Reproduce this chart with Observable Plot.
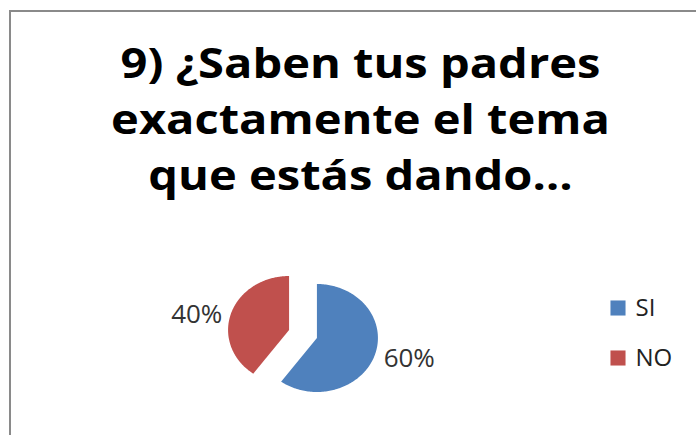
<!DOCTYPE html>
<html>
<head>
<meta charset="utf-8">
<script src="https://cdn.jsdelivr.net/npm/d3@7"></script>
<script src="https://cdn.jsdelivr.net/npm/@observablehq/plot@0.6"></script>
<style>
  html, body { margin: 0; padding: 0; background: #fff; }
  #wrap { position: relative; width: 696px; height: 435px; overflow: hidden; }
  #border { position: absolute; left: 9px; top: 10px; width: 720px; height: 460px;
            border-left: 2px solid #8a8a8a; border-top: 2px solid #8a8a8a; box-sizing: border-box; }
  #chart { position: absolute; left: 0; top: 0; }
</style>
</head>
<body>
<div id="wrap"><div id="border"></div><div id="chart"></div></div>
<script>
// ---- data ----
const titleLines = ["9) ¿Saben tus padres", "exactamente el tema", "que estás dando…"];
const categories = ["SI", "NO"];
const values = [60, 40];
const labels = ["60%", "40%"];
const colors = ["#4F81BD", "#C0504D"];

// ---- layout ----
const W = 696, H = 435;
const cx = 302.5, cy = 333.5, rx = 61, ry = 54;   // pie ellipse in pixels
const explode = 0.24;                              // in radius units
const fromPx = (px, py) => [(px - cx) / rx, (cy - py) / ry];
const titleCenter = 360, titleStretch = 1.12;

const pie = d3.pie().sort(null).value(d => d.value);
const arcs = pie(categories.map((c, i) => ({cat: c, value: values[i], label: labels[i]})));

const slicePts = [];
const labelPts = [];
for (const a of arcs) {
  const mid = (a.startAngle + a.endAngle) / 2;
  const ox = explode * Math.sin(mid), oy = explode * Math.cos(mid);
  slicePts.push({cat: a.data.cat, x: ox, y: oy});
  const n = 180;
  for (let k = 0; k <= n; ++k) {
    const t = a.startAngle + (a.endAngle - a.startAngle) * k / n;
    slicePts.push({cat: a.data.cat, x: ox + Math.sin(t), y: oy + Math.cos(t)});
  }
  const r = 1.15 + explode;
  labelPts.push({label: a.data.label, x: r * Math.sin(mid), y: r * Math.cos(mid),
                 anchor: Math.sin(mid) >= 0 ? "start" : "end"});
}

const legendX = fromPx(617.5, 0)[0];
const legendTextX = fromPx(635, 0)[0];
const legendY = i => fromPx(0, 307.5 + i * 50)[1];

const plot = Plot.plot({
  width: W, height: H,
  margin: 0,
  x: {type: "linear", domain: [-1, 1], range: [cx - rx, cx + rx], axis: null},
  y: {type: "linear", domain: [-1, 1], range: [cy + ry, cy - ry], axis: null},
  color: {domain: categories, range: colors},
  style: {background: "transparent"},
  marks: [
    Plot.line(slicePts, {x: "x", y: "y", z: "cat", fill: "cat", stroke: null}),
    Plot.text(labelPts.filter(d => d.anchor === "start"), {x: "x", y: "y", text: "label", textAnchor: "start",
      fontSize: 26, fontFamily: "Open Sans", fill: "#333", dy: 1}),
    Plot.text(labelPts.filter(d => d.anchor === "end"), {x: "x", y: "y", text: "label", textAnchor: "end",
      fontSize: 26, fontFamily: "Open Sans", fill: "#333", dy: 4}),
    Plot.dot(categories, {x: () => legendX, y: (d, i) => legendY(i), fill: d => d, symbol: "square", r: 8.5, stroke: null}),
    Plot.text(categories, {x: () => legendTextX, y: (d, i) => legendY(i), text: d => d, textAnchor: "start",
      fontSize: 24, fontFamily: "Open Sans", fill: "#222"}),
    Plot.text([titleLines.join("\n")], {frameAnchor: "top-left", dx: titleCenter, dy: 38, text: d => d,
      textAnchor: "middle", lineAnchor: "top", lineHeight: 56 / 42,
      fontSize: 42, fontWeight: "bold", fontFamily: "Open Sans", fill: "#000"})
  ]
});

// stretch the title horizontally around its own anchor (the reference is a widened image)
const titleText = Array.from(plot.querySelectorAll("text")).find(t => t.textContent.includes(titleLines[0]));
if (titleText) {
  let c = +(titleText.getAttribute("x") || 0);
  const m = /translate\(\s*([-\d.e]+)/.exec(titleText.getAttribute("transform") || "");
  if (m) c += +m[1];
  const wrapG = document.createElementNS("http://www.w3.org/2000/svg", "g");
  wrapG.setAttribute("transform", `translate(${c},0) scale(${titleStretch},1) translate(${-c},0)`);
  titleText.parentNode.insertBefore(wrapG, titleText);
  wrapG.appendChild(titleText);
}
document.getElementById("chart").appendChild(plot);
</script>
</body>
</html>
